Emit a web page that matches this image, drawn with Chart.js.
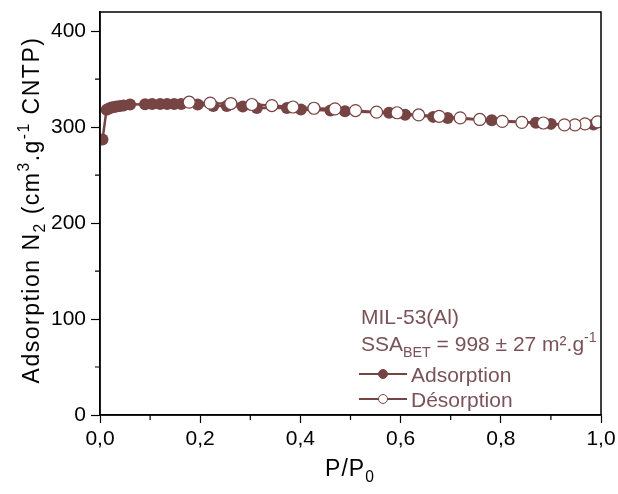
<!DOCTYPE html>
<html>
<head>
<meta charset="utf-8">
<script src="https://cdn.jsdelivr.net/npm/chart.js@4/dist/chart.umd.min.js"></script>
<style>
  html, body { margin: 0; padding: 0; background: #fff; }
  #wrap { width: 618px; height: 494px; }
</style>
</head>
<body>
<div id="wrap"><canvas id="iso" width="618" height="494"></canvas></div>
<script>
// ---- data read from the isotherm ----
const adsP = [0.005, 0.013, 0.018, 0.023, 0.028, 0.033, 0.040, 0.047, 0.060, 0.090, 0.104, 0.120, 0.134, 0.148, 0.162,
              0.195, 0.226, 0.253, 0.285, 0.313, 0.373, 0.401, 0.460, 0.489, 0.577, 0.609, 0.665, 0.694, 0.782, 0.870, 0.900, 0.985];
const adsQ = [287, 318, 319.5, 320.5, 321, 321.5, 322, 322.5, 323.5, 323.8, 324, 324, 324, 324, 324,
              323.6, 322, 322, 321.5, 320, 320, 318.5, 317.3, 316.5, 315, 313, 310.7, 309.6, 307.2, 304.5, 303.4, 302.7];
const desP = [0.993, 0.968, 0.948, 0.927, 0.885, 0.842, 0.803, 0.758, 0.719, 0.677, 0.636, 0.593, 0.552, 0.510,
              0.469, 0.427, 0.385, 0.343, 0.303, 0.261, 0.220, 0.178];
const desQ = [305.5, 303.4, 302.3, 302.3, 304.3, 305, 306, 308, 309.6, 311.3, 312.7, 315, 315.6, 317.3,
              319, 319.7, 321, 322.5, 323.6, 324.6, 325, 326];
const xTicks = [0, 0.2, 0.4, 0.6, 0.8, 1.0];
const xMinor = [0.1, 0.3, 0.5, 0.7, 0.9];
const yTicks = [0, 100, 200, 300, 400];
const yMinor = [50, 150, 250, 350];

const MAROON = '#774444';
const TEXTC = '#7a5358';
const FONT = '"Liberation Sans", Arial, sans-serif';

function pts(xs, ys) { return xs.map((x, i) => ({ x: x, y: ys[i] })); }

// draws text with sub/superscript parts: [text, ''|'sub'|'sup']
function richText(ctx, parts, x, y, size, align, spacing) {
    const small = size * 0.68;
    ctx.letterSpacing = (spacing || 0) + 'px';
    let total = 0;
    parts.forEach(p => {
        ctx.font = (p[1] ? small : size) + 'px ' + FONT;
        total += ctx.measureText(p[0]).width;
    });
    let cx = align === 'center' ? x - total / 2 : x;
    parts.forEach(p => {
        ctx.font = (p[1] ? small : size) + 'px ' + FONT;
        let dy = 0;
        if (p[1] === 'sub') dy = size * 0.28;
        if (p[1] === 'sup') dy = -size * 0.42;
        ctx.fillText(p[0], cx, y + dy);
        cx += ctx.measureText(p[0]).width;
    });
    ctx.letterSpacing = '0px';
}

const decorPlugin = {
    id: 'decor',
    afterDraw(chart) {
        const ctx = chart.ctx;
        const a = chart.chartArea;
        const xs = chart.scales.x, ys = chart.scales.y;
        ctx.save();
        // frame
        ctx.strokeStyle = '#000';
        ctx.lineWidth = 1.5;
        ctx.strokeRect(a.left, a.top, a.right - a.left, a.bottom - a.top);
        // minor ticks
        ctx.lineWidth = 1.2;
        ctx.beginPath();
        xMinor.forEach(v => {
            const px = xs.getPixelForValue(v);
            ctx.moveTo(px, a.bottom); ctx.lineTo(px, a.bottom + 5);
        });
        yMinor.forEach(v => {
            const py = ys.getPixelForValue(v);
            ctx.moveTo(a.left, py); ctx.lineTo(a.left - 5, py);
        });
        ctx.stroke();

        // axis titles
        ctx.fillStyle = '#000';
        ctx.textBaseline = 'alphabetic';
        richText(ctx, [['P/P', ''], ['0', 'sub']], 350, 476, 23, 'center', 1);
        ctx.save();
        ctx.translate(39, 210);
        ctx.rotate(-Math.PI / 2);
        richText(ctx, [['Adsorption N', ''], ['2', 'sub'], [' (cm', ''], ['3', 'sup'], ['.g', ''], ['-1', 'sup'], [' CNTP)', '']], 0, 0, 23, 'center', 1.5);
        ctx.restore();

        // annotation + legend
        ctx.fillStyle = TEXTC;
        richText(ctx, [['MIL-53(Al)', '']], 361, 324, 21, 'left');
        richText(ctx, [['SSA', ''], ['BET', 'sub'], [' = 998 \u00b1 27 m\u00b2.g', ''], ['-1', 'sup']], 361, 351, 21, 'left');
        const rows = [{ y: 374, fill: MAROON, label: 'Adsorption' }, { y: 399, fill: '#fff', label: 'D\u00e9sorption' }];
        rows.forEach(r => {
            ctx.strokeStyle = MAROON;
            ctx.lineWidth = 2;
            ctx.beginPath(); ctx.moveTo(359, r.y); ctx.lineTo(407, r.y); ctx.stroke();
            ctx.beginPath(); ctx.arc(383, r.y, 4.5, 0, Math.PI * 2);
            ctx.fillStyle = r.fill; ctx.fill();
            ctx.lineWidth = 1; ctx.stroke();
            ctx.fillStyle = TEXTC;
            richText(ctx, [[r.label, '']], 411, r.y + 7.5, 21, 'left');
        });
        ctx.restore();
    }
};

new Chart(document.getElementById('iso'), {
    type: 'scatter',
    data: {
        datasets: [
            {
                label: 'Adsorption',
                data: pts(adsP, adsQ),
                showLine: true,
                borderColor: MAROON,
                borderWidth: 2.5,
                pointRadius: 6,
                pointBackgroundColor: MAROON,
                pointBorderColor: MAROON,
                pointBorderWidth: 0,
                order: 2
            },
            {
                label: 'Désorption',
                data: pts(desP, desQ),
                showLine: true,
                borderColor: MAROON,
                borderWidth: 2.5,
                pointRadius: 6,
                pointBackgroundColor: '#fff',
                pointBorderColor: MAROON,
                pointBorderWidth: 1.2,
                order: 1
            }
        ]
    },
    options: {
        responsive: false,
        animation: false,
        layout: { padding: { top: 12, right: 17, left: 0, bottom: 0 } },
        plugins: { legend: { display: false }, tooltip: { enabled: false } },
        scales: {
            x: {
                type: 'linear',
                min: 0, max: 1,
                afterBuildTicks: s => { s.ticks = xTicks.map(v => ({ value: v })); },
                afterFit: s => { s.height = 79; s.paddingLeft = 0; s.paddingRight = 0; },
                border: { color: '#000', width: 1.5 },
                grid: { drawOnChartArea: false, tickLength: 8, tickColor: '#000', tickWidth: 1.2 },
                ticks: {
                    color: '#000', padding: 4,
                    font: { family: FONT, size: 21 },
                    callback: v => v.toFixed(1).replace('.', ',')
                }
            },
            y: {
                type: 'linear',
                min: 0, max: 420,
                afterBuildTicks: s => { s.ticks = yTicks.map(v => ({ value: v })); },
                afterFit: s => { s.width = 100; s.paddingTop = 0; s.paddingBottom = 0; },
                border: { color: '#000', width: 1.5 },
                grid: { drawOnChartArea: false, tickLength: 9, tickColor: '#000', tickWidth: 1.2 },
                ticks: {
                    color: '#000', padding: 5,
                    font: { family: FONT, size: 21 }
                }
            }
        }
    },
    plugins: [decorPlugin]
});
</script>
</body>
</html>
